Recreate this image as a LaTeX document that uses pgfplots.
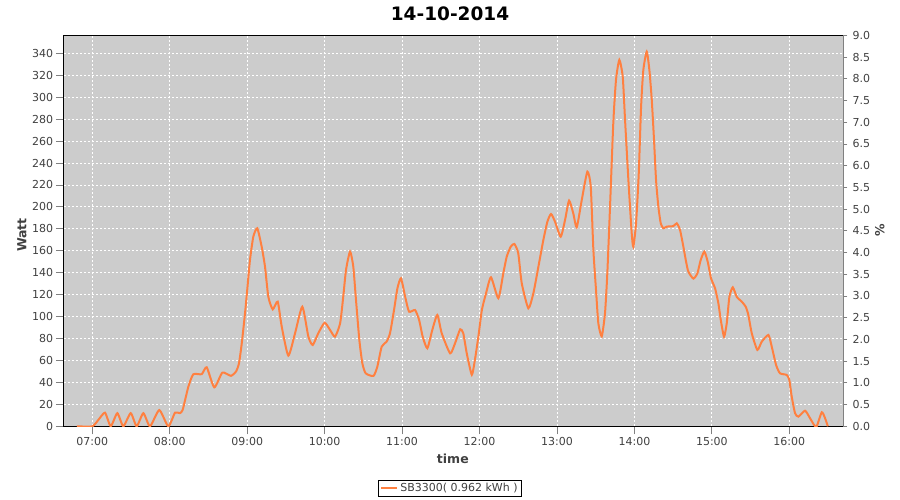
\documentclass[border=0pt]{standalone}
\usepackage{pgfplots}
\pgfplotsset{compat=1.18}
\usepackage{fontspec}
\setmainfont{DejaVu Sans}
\definecolor{plotbg}{RGB}{204,204,204}
\definecolor{serie}{RGB}{255,128,64}
\definecolor{txt}{RGB}{64,64,64}
\definecolor{axgray}{RGB}{128,128,128}
\pgfplotstableread{
h w
6.80 0
7.00 0
7.08 6
7.164 12.4
7.238 0
7.323 12
7.40 0
7.496 12
7.573 0
7.659 12
7.745 0
7.865 14.8
7.981 0
8.068 12.4
8.13 12
8.167 15
8.24 36
8.304 47.4
8.413 47.5
8.477 53.8
8.575 35.5
8.679 48.9
8.79 46
8.856 50
8.894 57.4
8.93 75.7
8.972 103
9.0 124
9.036 151.6
9.079 172.8
9.13 180.5
9.187 163.7
9.23 145.5
9.273 118
9.33 106.6
9.394 113.6
9.446 90.8
9.531 64.4
9.618 84.8
9.712 109
9.79 81.7
9.846 74.1
9.918 84.8
10.0 94.4
10.07 87.8
10.134 81.7
10.2 93.9
10.24 118
10.276 142.5
10.328 159.2
10.37 145.5
10.405 115
10.448 78.7
10.487 57.4
10.53 48.3
10.63 45.9
10.68 54.3
10.737 72.6
10.8 77.1
10.844 84.8
10.896 106
10.94 125.8
10.986 134.9
11.04 118
11.09 104.5
11.167 106
11.22 96.9
11.266 81.7
11.326 71.1
11.39 87.8
11.455 101.5
11.512 84.8
11.62 66.5
11.684 75.7
11.75 88.4
11.79 84.8
11.835 66.5
11.9 47
11.94 60.4
11.985 81.7
12.03 106
12.084 121.2
12.148 135.8
12.243 116.7
12.307 139.5
12.351 154.6
12.403 163.7
12.45 166.2
12.5 157.7
12.545 130.4
12.63 107.6
12.695 121.2
12.76 145.5
12.824 169.8
12.876 186.5
12.923 193.5
12.975 186.5
13.048 172.8
13.104 188
13.156 205.7
13.21 194.2
13.255 181.4
13.32 206.3
13.392 232.1
13.436 218.4
13.47 160.7
13.504 124.2
13.534 93.9
13.578 82
13.62 103
13.65 139.5
13.685 200.2
13.727 276.2
13.762 315.7
13.805 334
13.849 318.7
13.879 279.2
13.922 224.5
13.965 175.9
13.986 163.7
14.021 185
14.056 230.6
14.086 291.3
14.115 324.8
14.159 341.5
14.193 324.8
14.224 297.4
14.253 261
14.279 224.5
14.309 200.2
14.34 185
14.373 180.5
14.417 182
14.503 182.5
14.547 185
14.589 178.9
14.632 163.7
14.667 150
14.696 141
14.761 134.6
14.813 139.5
14.856 151.6
14.903 159.2
14.946 150.1
14.989 134.9
15.041 125.8
15.084 112.1
15.115 96.9
15.157 81.7
15.192 93.9
15.226 118
15.27 126.7
15.321 118
15.386 113.6
15.437 109
15.471 101.5
15.515 84.8
15.587 69.6
15.644 77.1
15.73 83.2
15.773 72.6
15.829 55.9
15.88 48.3
15.967 46.8
16.0 42.2
16.031 27
16.074 11.9
16.117 8.8
16.203 14.2
16.268 7.3
16.32 1.2
16.354 0
16.419 12.8
16.462 7.3
16.497 0
}\datatable
\begin{document}
\begin{tikzpicture}
\path[use as bounding box] (0pt,0pt) rectangle (900pt,500pt);
\node[font=\bfseries\fontsize{18.5}{20}\selectfont, text=black] at (450pt,486pt) {14-10-2014};
\begin{axis}[
  at={(64pt,73.7pt)}, anchor=south west,
  scale only axis, width=779.3pt, height=391pt,
  xmin=6.6346, xmax=16.697, ymin=0, ymax=356.4,
  axis background/.style={fill=plotbg},
  axis line style={black, line width=1pt},
  xtick={7,8,9,10,11,12,13,14,15,16},
  xticklabels={07:00,08:00,09:00,10:00,11:00,12:00,13:00,14:00,15:00,16:00},
  ytick={0,20,40,60,80,100,120,140,160,180,200,220,240,260,280,300,320,340},
  xtick pos=bottom, ytick pos=left,
  tick align=outside, major tick length=8pt,
  tick style={axgray, line width=0.8pt},
  grid=major,
  major grid style={white, line width=0.8pt, dash pattern=on 2pt off 2pt},
  /pgf/number format/assume math mode=true,
  ticklabel style={font=\fontsize{11}{13}\selectfont, text=txt, inner sep=0pt},
  yticklabel style={xshift=-2.7pt},
  xticklabel style={yshift=-2.4pt},
  xlabel={time}, ylabel={Watt},
  label style={font=\bfseries\fontsize{12.5}{14}\selectfont, text=txt},
  xlabel style={at={(axis description cs:0.499,-0.0836)}, anchor=center},
  ylabel style={at={(axis description cs:-0.0539,0.489)}, anchor=center},
  legend style={at={(axis description cs:0.4953,-0.158)}, anchor=center,
    draw=black, line width=0.8pt, fill=white,
    font=\fontsize{11}{13}\selectfont, text=txt,
    inner xsep=2pt, inner ysep=1pt},
  legend image code/.code={\draw[#1, line width=2pt] (0pt,0pt) -- (16pt,0pt);},
]
\addplot[serie, line width=2pt, smooth, tension=0.35] table[x=h, y=w] {\datatable};
\addlegendentry{SB3300( 0.962 kWh )}
\draw[axgray, line width=0.9pt] ([xshift=-4pt]rel axis cs:0,0) -- ([xshift=-4pt]rel axis cs:0,1);
\draw[axgray, line width=0.9pt] ([yshift=-4.4pt]rel axis cs:0,0) -- ([yshift=-4.4pt]rel axis cs:1,0);
\end{axis}
\begin{axis}[
  at={(64pt,73.7pt)}, anchor=south west,
  scale only axis, width=779.3pt, height=391pt,
  xmin=6.6346, xmax=16.697, ymin=0, ymax=9,
  axis x line=none, axis y line*=right,
  axis line style={axgray, line width=0.9pt, -},
  ytick={0,0.5,1,1.5,2,2.5,3,3.5,4,4.5,5,5.5,6,6.5,7,7.5,8,8.5,9},
  tick align=outside, major tick length=4pt,
  tick style={axgray, line width=0.8pt},
  /pgf/number format/assume math mode=true,
  yticklabel style={font=\fontsize{11}{13}\selectfont, text=txt, inner sep=0pt, xshift=5pt,
    /pgf/number format/.cd, fixed, fixed zerofill, precision=1},
  ylabel={\%},
  ylabel style={at={(axis description cs:1.047,0.502)}, anchor=center,
    font=\bfseries\fontsize{12.5}{14}\selectfont, text=txt},
]
\addplot[draw=none] coordinates {(7,0)};
\end{axis}
\end{tikzpicture}
\end{document}
